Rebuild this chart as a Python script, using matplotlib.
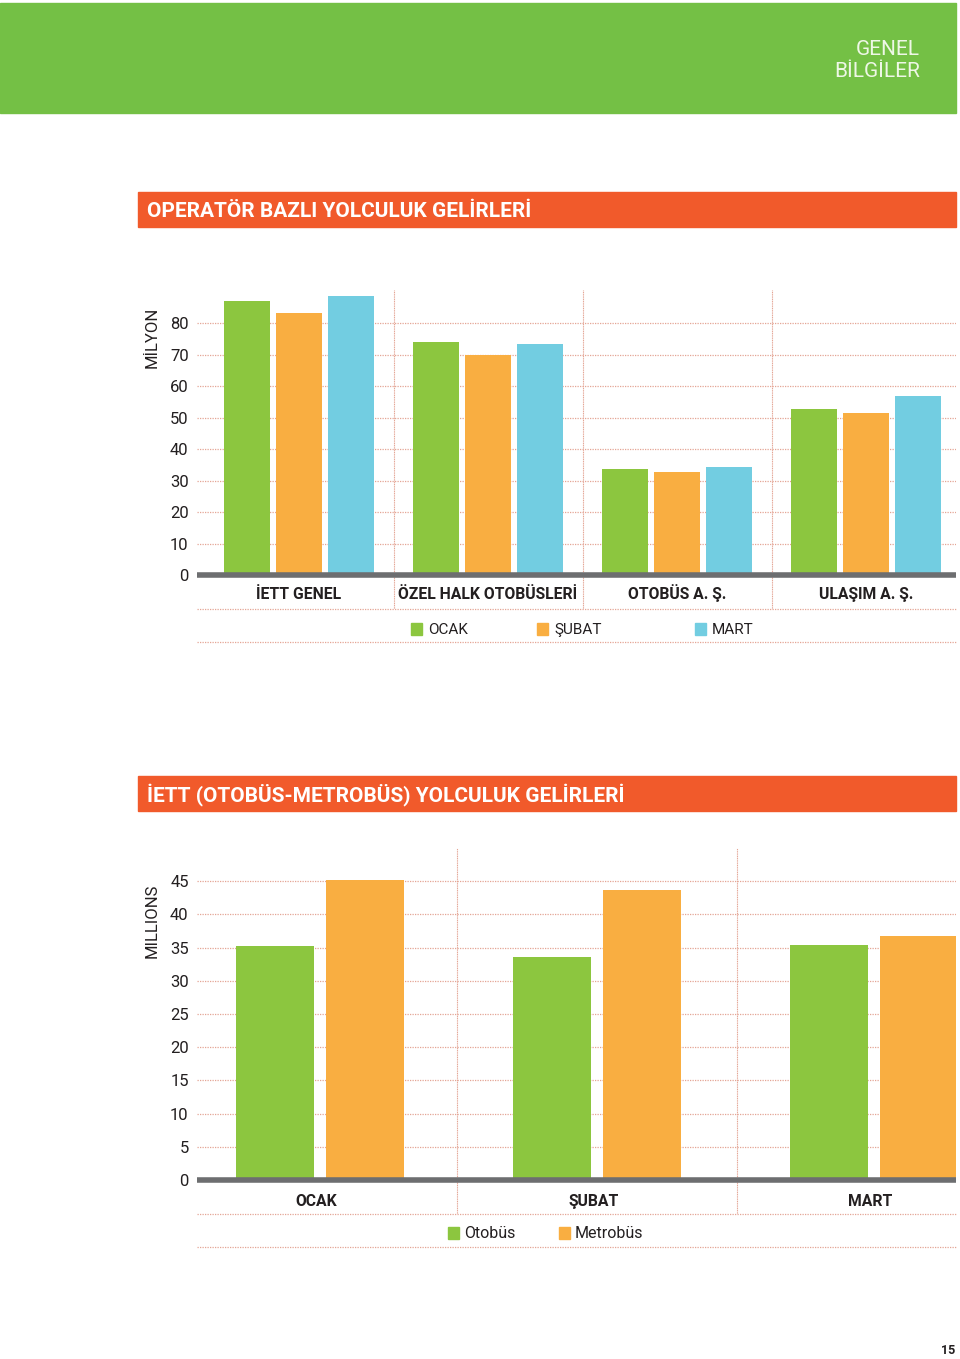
import matplotlib
matplotlib.use("Agg")
import matplotlib.pyplot as plt
import matplotlib.patches as mpatches
from matplotlib.lines import Line2D
import numpy as np

plt.rcParams['font.family'] = ['Roboto', 'DejaVu Sans']

# ---------------- data ----------------
operators = ["İETT GENEL", "ÖZEL HALK OTOBÜSLERİ", "OTOBÜS A. Ş.", "ULAŞIM A. Ş."]
ocak = [87.2, 74.1, 33.8, 52.8]
subat = [83.3, 69.8, 32.6, 51.5]
mart = [88.7, 73.5, 34.4, 56.8]
months1 = ["OCAK", "ŞUBAT", "MART"]
yticks1 = [0, 10, 20, 30, 40, 50, 60, 70, 80]

months2 = ["OCAK", "ŞUBAT", "MART"]
otobus = [35.3, 33.6, 35.4]
metrobus = [45.2, 43.6, 36.7]
series2 = ["Otobüs", "Metrobüs"]
yticks2 = [0, 5, 10, 15, 20, 25, 30, 35, 40, 45]

GREEN = "#8cc63f"
ORANGE = "#f9ae41"
BLUE = "#72cde1"
HEADER = "#74c045"
TITLE = "#f15a2b"
GRID = "#e4a595"
BASE = "#6d6e70"
TXT = "#231f20"

W, H = 960, 1359
fig = plt.figure(figsize=(W / 100, H / 100), dpi=100)

def fx(px):
    return px / W

def fy(py):
    return 1 - py / H

def frect(x0, y0, x1, y1, color):
    fig.patches.append(mpatches.Rectangle((fx(x0), fy(y1)), fx(x1) - fx(x0), fy(y0) - fy(y1),
                                          transform=fig.transFigure, color=color, zorder=0))

def fhline(y, x0, x1):
    fig.lines.append(Line2D([fx(x0), fx(x1)], [fy(y), fy(y)], transform=fig.transFigure,
                            color=GRID, lw=0.9, ls=(0, (1, 1))))

# header
frect(0, 3, 956, 113, HEADER)
fig.text(fx(920), fy(55), "GENEL", color="#eef7e6", fontsize=15, ha="right", va="baseline")
fig.text(fx(920), fy(77), "BİLGİLER", color="#eef7e6", fontsize=15, ha="right", va="baseline")

# title bars
frect(138, 192, 956, 227, TITLE)
fig.text(fx(147), fy(217), "OPERATÖR BAZLI YOLCULUK GELİRLERİ", color="white", fontsize=15,
         fontweight="bold", ha="left", va="baseline")
frect(138, 776, 956, 811, TITLE)
fig.text(fx(147), fy(801), "İETT (OTOBÜS-METROBÜS) YOLCULUK GELİRLERİ", color="white", fontsize=15,
         fontweight="bold", ha="left", va="baseline")

def style_axes(ax):
    for s in ax.spines.values():
        s.set_visible(False)
    ax.tick_params(axis="y", length=0, labelsize=12, labelcolor=TXT, pad=6)
    ax.set_xticks([])

# ---------------- chart 1 ----------------
ax1 = fig.add_axes([fx(197), fy(609), fx(956) - fx(197), fy(290) - fy(609)])
style_axes(ax1)
x1 = np.arange(len(operators))
bw1, step1 = 0.243, 0.275
ax1.bar(x1 - step1, ocak, width=bw1, color=GREEN, zorder=3)
ax1.bar(x1, subat, width=bw1, color=ORANGE, zorder=3)
ax1.bar(x1 + step1, mart, width=bw1, color=BLUE, zorder=3)
ax1.set_xlim(-0.54, 3.476)
ax1.set_ylim(-10.8, 90.6)
ax1.set_yticks(yticks1)
for t in yticks1[1:]:
    ax1.axhline(t, color=GRID, lw=0.9, ls=(0, (1, 1)), zorder=1)
ax1.axhline(0, color=BASE, lw=4, zorder=4)
for b in [0.5, 1.5, 2.5]:
    ax1.axvline(b, color=GRID, lw=0.8, ls=(0, (1, 0.6)), zorder=1)
for i, lab in enumerate(operators):
    ax1.text(i, -7.6, lab, ha="center", va="baseline", fontsize=11.3, fontweight="bold", color=TXT)
fig.text(fx(152), fy(337), "MİLYON", rotation=90, ha="center", va="center", fontsize=12, color=TXT)
fhline(609, 197, 956)
fhline(642, 197, 956)
for (sx, col, lab) in [(411, GREEN, months1[0]), (537, ORANGE, months1[1]), (695, BLUE, months1[2])]:
    frect(sx, 623, sx + 11, 635, col)
    fig.text(fx(sx + 17), fy(634), lab, ha="left", va="baseline", fontsize=11, color=TXT)

# ---------------- chart 2 ----------------
ax2 = fig.add_axes([fx(197), fy(1214), fx(956) - fx(197), fy(848) - fy(1214)])
style_axes(ax2)
x2 = np.arange(len(months2))
bw2, off2 = 0.282, 0.162
ax2.bar(x2 - off2, otobus, width=bw2, color=GREEN, zorder=3)
ax2.bar(x2 + off2, metrobus, width=bw2, color=ORANGE, zorder=3)
ax2.set_xlim(-0.444, 2.296)
ax2.set_ylim(-5.12, 50)
ax2.set_yticks(yticks2)
for t in yticks2[1:]:
    ax2.axhline(t, color=GRID, lw=0.9, ls=(0, (1, 1)), zorder=1)
ax2.axhline(0, color=BASE, lw=4, zorder=4)
for b in [0.495, 1.505]:
    ax2.axvline(b, color=GRID, lw=0.8, ls=(0, (1, 0.6)), zorder=1)
for i, lab in enumerate(months2):
    ax2.text(i - 0.012, -3.9, lab, ha="center", va="baseline", fontsize=11.3, fontweight="bold", color=TXT)
fig.text(fx(152), fy(921), "MILLIONS", rotation=90, ha="center", va="center", fontsize=12, color=TXT)
fhline(1214, 197, 956)
fhline(1247, 197, 956)
for (sx, col, lab) in [(448, GREEN, series2[0]), (559, ORANGE, series2[1])]:
    frect(sx, 1227, sx + 11, 1239, col)
    fig.text(fx(sx + 16), fy(1238), lab, ha="left", va="baseline", fontsize=11.5, color=TXT)

fig.text(fx(948), fy(1351), "15", ha="center", va="center", fontsize=9, fontweight="bold", color=TXT)

fig.savefig("out.png", dpi=100)
